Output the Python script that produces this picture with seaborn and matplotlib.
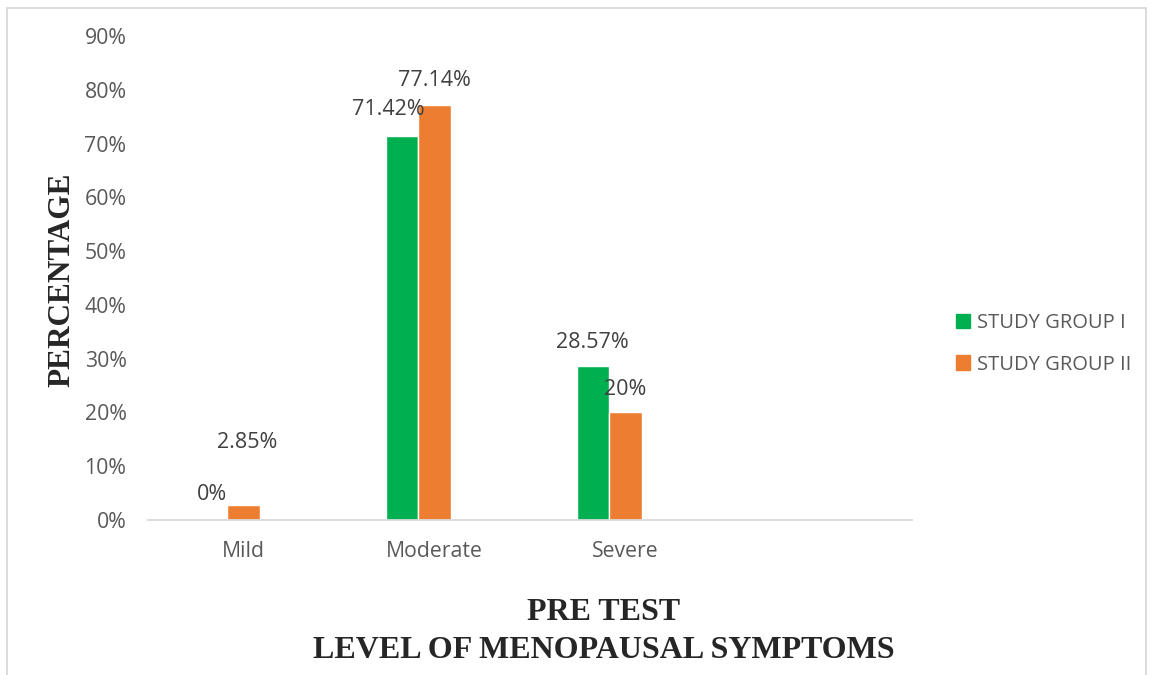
import matplotlib
matplotlib.use("Agg")
import matplotlib.pyplot as plt
import matplotlib.patches as mpatches
import seaborn as sns
import pandas as pd
import numpy as np

# chart values (fractions)
levels = ["Mild", "Moderate", "Severe"]
group_1 = [0.0, 0.7142, 0.2857]
group_2 = [0.0285, 0.7714, 0.20]
label_1 = ["0%", "71.42%", "28.57%"]
label_2 = ["2.85%", "77.14%", "20%"]
series = ["STUDY GROUP I", "STUDY GROUP II"]
y_ticks = [0.0, 0.1, 0.2, 0.3, 0.4, 0.5, 0.6, 0.7, 0.8, 0.9]

colors = ["#00B050", "#ED7D31", "#FFFFFF"]
text_grey = "#595959"

# excel keeps an empty third series slot, so bars sit left of the tick
df = pd.DataFrame(
    {
        "level": levels * 3,
        "group": np.repeat(series + ["_blank"], len(levels)),
        "value": group_1 + group_2 + [np.nan] * len(levels),
    }
)

sns.set_style("white")
plt.rcParams["font.family"] = ["Open Sans", "DejaVu Sans"]

fig = plt.figure(figsize=(11.59, 6.75), dpi=100)
ax = fig.add_axes([148 / 1159, 1 - 520 / 675, 764 / 1159, (520 - 36) / 675])

sns.barplot(
    data=df,
    x="level",
    y="value",
    hue="group",
    hue_order=series + ["_blank"],
    order=levels,
    palette=colors,
    width=0.503,
    saturation=1,
    errorbar=None,
    legend=False,
    ax=ax,
)

ax.set_xlim(-0.5, 3.5)
ax.set_ylim(0, 0.9)
ax.set_yticks(y_ticks)
ax.set_yticklabels([f"{int(round(t * 100))}%" for t in y_ticks])
ax.tick_params(axis="both", length=0, labelsize=15.3, labelcolor=text_grey)
ax.tick_params(axis="y", pad=15.5)
ax.tick_params(axis="x", pad=15)
ax.set_xlabel("")
ax.set_ylabel("")
for side in ["left", "right", "top"]:
    ax.spines[side].set_visible(False)
ax.spines["bottom"].set_color("#d9d9d9")
ax.spines["bottom"].set_linewidth(1.3)

# data labels, offsets in pixels from the bar top (excel placed a few oddly)
offsets_1 = [(1, 26), (-14, 26), (-1, 24)]
offsets_2 = [(4, 62), (0, 25), (0, 23)]
bars = [p for p in ax.patches if np.isfinite(p.get_height())]
bars_1 = bars[: len(levels)]
bars_2 = bars[len(levels): 2 * len(levels)]
for bar_set, labels, offs in [(bars_1, label_1, offsets_1), (bars_2, label_2, offsets_2)]:
    for bar, lab, (dx, dy) in zip(bar_set, labels, offs):
        ax.annotate(
            lab,
            (bar.get_x() + bar.get_width() / 2, bar.get_height()),
            xytext=(dx * 0.72, dy * 0.72),
            textcoords="offset points",
            ha="center",
            va="center",
            fontsize=15.5,
            color="#404040",
            annotation_clip=False,
        )

handles = [mpatches.Patch(color=colors[i], label=series[i]) for i in range(2)]
fig.legend(
    handles=handles,
    loc="center left",
    bbox_to_anchor=(938 / 1159, 1 - 344 / 675),
    frameon=False,
    fontsize=14.5,
    handlelength=0.7,
    handleheight=0.7,
    handletextpad=0.35,
    labelspacing=1.05,
    labelcolor=text_grey,
)

serif = ["Liberation Serif", "DejaVu Serif"]
fig.text(62 / 1159, 1 - 280 / 675, "PERCENTAGE", rotation=90, ha="center", va="center",
         fontsize=22.5, fontweight="bold", family=serif)
fig.text(604 / 1159, 1 - 613 / 675, "PRE TEST", ha="center", va="center",
         fontsize=23, fontweight="bold", family=serif)
fig.text(604 / 1159, 1 - 650 / 675, "LEVEL OF MENOPAUSAL SYMPTOMS", ha="center", va="center",
         fontsize=23, fontweight="bold", family=serif)

# light chart border, bottom edge runs past the image
fig.patches.append(
    mpatches.Rectangle((7 / 1159, -0.05), (1146 - 7) / 1159, 1.05 - 8 / 675,
                       transform=fig.transFigure, fill=False, edgecolor="#d9d9d9", linewidth=1.3)
)

fig.savefig("out.png", dpi=100)
